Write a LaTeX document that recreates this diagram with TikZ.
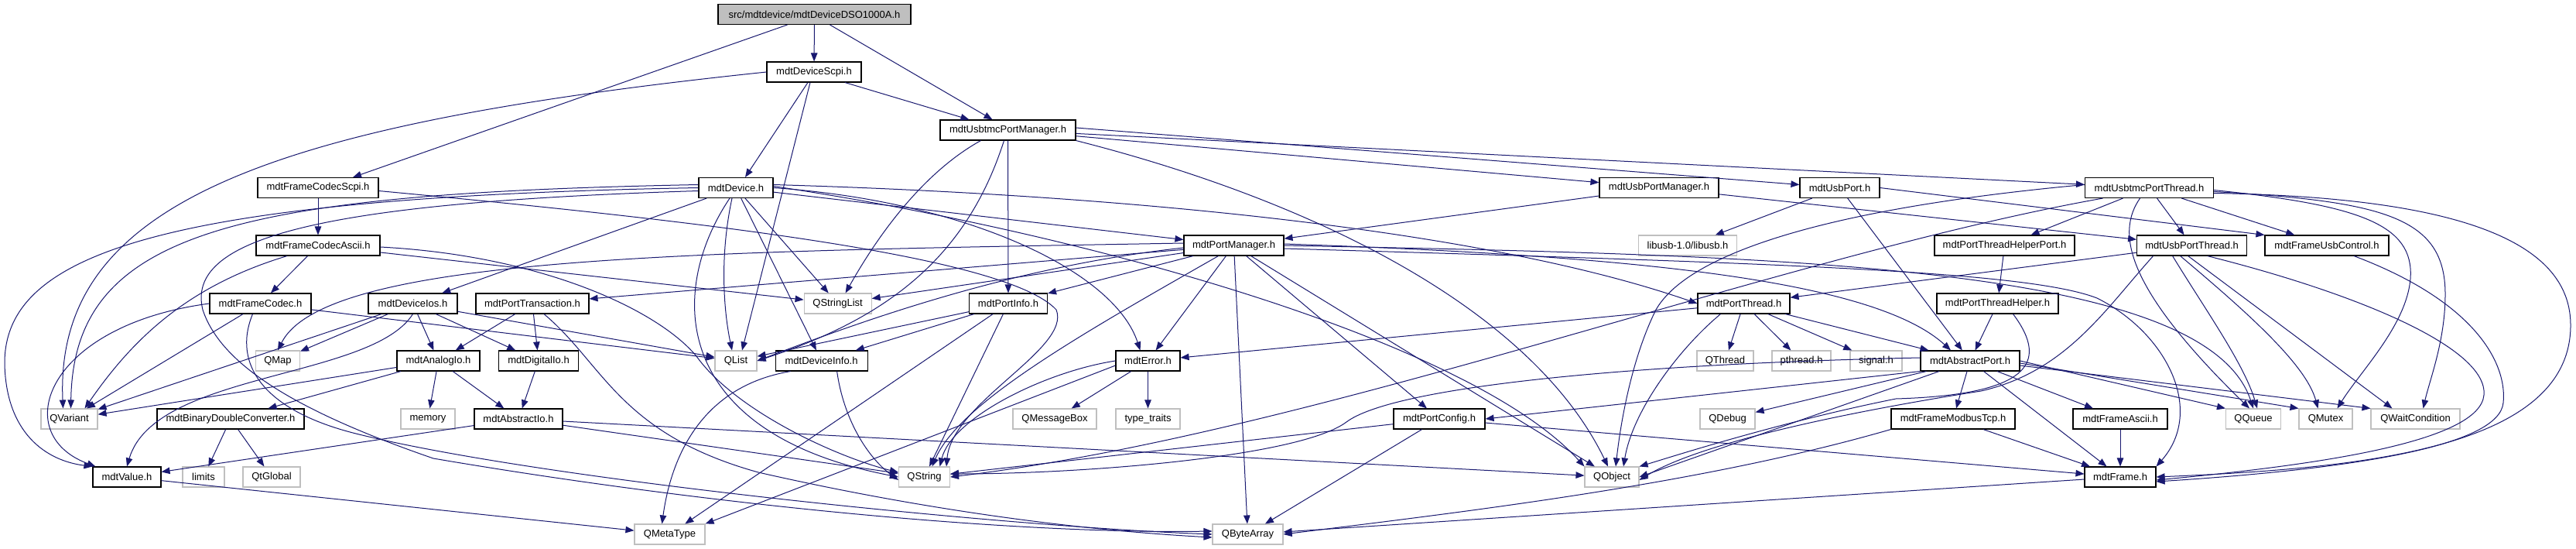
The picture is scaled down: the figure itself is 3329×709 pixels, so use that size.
\documentclass[tikz,border=0pt]{standalone}
\usepackage{fontspec}
\setmainfont{Liberation Sans}
\usetikzlibrary{arrows.meta}
\definecolor{eb}{HTML}{191970}
\definecolor{gb}{HTML}{BFBFBF}
\begin{document}
\begin{tikzpicture}[x=1pt,y=-1pt,
  nd/.style={draw=black,line width=1.1pt,inner sep=0pt,minimum height=26pt,font=\fontsize{13}{15}\selectfont,text=black},
  ex/.style={nd,draw=gb},
  rt/.style={nd,fill=gb},
  e/.style={draw=eb,line width=1pt,-{Triangle[length=11pt,width=8.5pt]}}]
\fill[white] (0,0) rectangle (3329,709);
\useasboundingbox (0,0) rectangle (3329,709);
% row 0-2
\node[rt,minimum width=249pt] (root) at (1052.5,18.5) {src/mdtdevice/mdtDeviceDSO1000A.h};
\node[nd,minimum width=122pt] (devscpi) at (1052,93) {mdtDeviceScpi.h};
\node[nd,minimum width=175pt] (usbtmcpm) at (1302.5,168) {mdtUsbtmcPortManager.h};
% row 3
\node[nd,minimum width=156pt] (fcscpi) at (411,242.5) {mdtFrameCodecScpi.h};
\node[nd,minimum width=96pt] (device) at (951,242.5) {mdtDevice.h};
\node[nd,minimum width=154pt] (usbpm) at (2144,242.5) {mdtUsbPortManager.h};
\node[nd,minimum width=103pt] (usbport) at (2377.5,242.5) {mdtUsbPort.h};
\node[nd,minimum width=166pt] (usbtmcpt) at (2777.5,242.5) {mdtUsbtmcPortThread.h};
% row 4
\node[nd,minimum width=160pt] (fcascii) at (411,317) {mdtFrameCodecAscii.h};
\node[nd,minimum width=129pt] (portmgr) at (1594.5,317) {mdtPortManager.h};
\node[ex,minimum width=127pt] (libusb) at (2181,317) {libusb-1.0/libusb.h};
\node[nd,minimum width=181pt] (pthp) at (2590.5,317) {mdtPortThreadHelperPort.h};
\node[nd,minimum width=142pt] (usbpt) at (2832.6,317) {mdtUsbPortThread.h};
\node[nd,minimum width=160pt] (fusbctl) at (3007,317) {mdtFrameUsbControl.h};
% row 5
\node[nd,minimum width=131pt] (fcodec) at (336.5,392) {mdtFrameCodec.h};
\node[nd,minimum width=115pt] (devios) at (533.5,392) {mdtDeviceIos.h};
\node[nd,minimum width=146pt] (ptrans) at (688,392) {mdtPortTransaction.h};
\node[ex,minimum width=87pt] (qstrlist) at (1082.6,392) {QStringList};
\node[nd,minimum width=101pt] (portinfo) at (1303,392) {mdtPortInfo.h};
\node[nd,minimum width=119pt] (portthread) at (2253.5,392) {mdtPortThread.h};
\node[nd,minimum width=157pt] (pthelper) at (2581.5,392) {mdtPortThreadHelper.h};
% row 6
\node[ex,minimum width=57pt] (qmap) at (359,466) {QMap};
\node[nd,minimum width=107pt] (analogio) at (566.5,466) {mdtAnalogIo.h};
\node[nd,minimum width=103pt] (digitalio) at (696,466) {mdtDigitalIo.h};
\node[ex,minimum width=54pt] (qlist) at (951,466) {QList};
\node[nd,minimum width=119pt] (devinfo) at (1061.6,466) {mdtDeviceInfo.h};
\node[nd,minimum width=83pt] (error) at (1483.5,466) {mdtError.h};
\node[ex,minimum width=73pt] (qthread) at (2229.5,466) {QThread};
\node[ex,minimum width=76pt] (pthread) at (2328,466) {pthread.h};
\node[ex,minimum width=67pt] (signal) at (2424.5,466) {signal.h};
\node[nd,minimum width=128pt] (abstractport) at (2546,466) {mdtAbstractPort.h};
% row 7
\node[ex,minimum width=73pt] (qvariant) at (89.5,541) {QVariant};
\node[nd,minimum width=190pt] (bdc) at (298,541) {mdtBinaryDoubleConverter.h};
\node[ex,minimum width=70pt] (memory) at (553,541) {memory};
\node[nd,minimum width=114pt] (abstractio) at (670,541) {mdtAbstractIo.h};
\node[ex,minimum width=108pt] (qmsgbox) at (1363,541) {QMessageBox};
\node[ex,minimum width=83pt] (typetraits) at (1483.5,541) {type\_traits};
\node[nd,minimum width=118pt] (portconfig) at (1860,541) {mdtPortConfig.h};
\node[ex,minimum width=71pt] (qdebug) at (2232.5,541) {QDebug};
\node[nd,minimum width=160pt] (fmodbus) at (2524,541) {mdtFrameModbusTcp.h};
\node[nd,minimum width=122pt] (fascii) at (2740,541) {mdtFrameAscii.h};
\node[ex,minimum width=71pt] (qqueue) at (2912,541) {QQueue};
\node[ex,minimum width=69pt] (qmutex) at (3005.5,541) {QMutex};
\node[ex,minimum width=115pt] (qwait) at (3121.5,541) {QWaitCondition};
% row 8
\node[nd,minimum width=88pt] (value) at (164,616) {mdtValue.h};
\node[ex,minimum width=54pt] (limits) at (263,616) {limits};
\node[ex,minimum width=74pt] (qtglobal) at (351,616) {QtGlobal};
\node[ex,minimum width=66pt] (qstring) at (1194.5,616) {QString};
\node[ex,minimum width=70pt] (qobject) at (2083,616) {QObject};
\node[nd,minimum width=92pt] (frame) at (2740,616) {mdtFrame.h};
% row 9
\node[ex,minimum width=91pt] (qmetatype) at (865.5,690) {QMetaType};
\node[ex,minimum width=91pt] (qbytearray) at (1612.5,690) {QByteArray};

% ---- straight connectors
\foreach \a/\b in {usbtmcpm/portinfo, usbtmcpm/usbpm, usbtmcpm/usbtmcpt,
  device/devios, device/qstrlist, device/devinfo, device/portmgr,
  fcscpi/fcascii, fcascii/fcodec, fcascii/qstrlist,
  fcodec/qvariant, fcodec/qlist,
  devios/qmap, devios/analogio, devios/digitalio, devios/qlist, devios/qvariant,
  ptrans/analogio, ptrans/digitalio,
  analogio/memory, analogio/abstractio, analogio/qvariant, analogio/bdc,
  digitalio/abstractio,
  abstractio/value, abstractio/qobject, abstractio/qstring,
  bdc/limits, bdc/qtglobal, value/qmetatype,
  portmgr/qstrlist, portmgr/portinfo, portmgr/error, portmgr/qbytearray, portmgr/ptrans,
  portmgr/portconfig, portmgr/qobject,
  portinfo/qlist, portinfo/devinfo, portinfo/qmetatype, portinfo/qstring,
  error/qmsgbox, error/typetraits,
  usbpm/portmgr, usbpm/usbpt, usbport/libusb, usbport/abstractport,
  usbtmcpt/usbpt, usbtmcpt/fusbctl, usbtmcpt/pthp,
  pthp/pthelper, pthelper/abstractport,
  usbpt/portthread,
  portthread/qthread, portthread/pthread, portthread/signal, portthread/abstractport, portthread/error,
  abstractport/qdebug, abstractport/fmodbus, abstractport/fascii, abstractport/frame,
  fmodbus/frame, fascii/frame, frame/qbytearray,
  portconfig/qstring, portconfig/qbytearray, portconfig/frame}
  \draw[e] (\a) -- (\b);

% ---- anchored straight connectors
\draw[e] (root) -- (devscpi);
\draw[e] ([xshift=-35pt]root.south) -- ([xshift=45pt]fcscpi.north);
\draw[e] ([xshift=20pt]root.south) -- ([xshift=-20pt]usbtmcpm.north);
\draw[e] ([xshift=40pt]devscpi.south) -- ([xshift=-50pt]usbtmcpm.north);
\draw[e] ([xshift=-8pt]devscpi.south) -- ([xshift=12pt]device.north);
\draw[e] ([xshift=-5pt]devscpi.south) -- ([xshift=8pt]qlist.north);
\draw[e] ([yshift=3pt]usbtmcpm.east) -- ([yshift=4pt]usbport.west);
\draw[e] (usbport.east) -- (fusbctl.north west);
\draw[e] ([yshift=-6pt]error.west) -- (qmetatype.north east);
\draw[e] (abstractport.south west) -- (portconfig.east);
\draw[e] ([xshift=-40pt]abstractport.south) -- (qobject.east);
\draw[e] (abstractport.east) -- (qqueue.north west);
\draw[e] ([yshift=-3pt]abstractport.east) -- (qmutex.north west);
\draw[e] ([yshift=-6pt]abstractport.east) -- (qwait.north west);
\draw[e] ([xshift=-5pt]usbpt.south) -- ([xshift=-30pt]qwait.north);

% ---- curved connectors, left part
\draw[e] (devscpi.west) .. controls (350,160) and (70,260) .. ([xshift=-8pt]qvariant.north);
\draw[e] ([yshift=4pt]device.west) .. controls (300,250) and (95,300) .. ([xshift=2pt]qvariant.north);
\draw[e] (device.west) .. controls (200,255) and (5,330) .. (6,470) .. controls (8,560) and (60,595) .. (value.north west);
\draw[e] (fcodec.west) .. controls (60,420) and (10,560) .. ([xshift=4pt]value.north west);
\draw[e] ([yshift=-4pt]device.west) .. controls (400,262) and (240,310) .. (262,400) .. controls (285,470) and (380,530) .. (560,592) .. controls (900,650) and (1300,690) .. ([yshift=4pt]qbytearray.west);
\draw[e] ([xshift=-10pt]fcodec.south) .. controls (300,470) and (340,530) .. (460,560) .. controls (700,620) and (1300,680) .. (qbytearray.west);
\draw[e] ([xshift=15pt]ptrans.south) .. controls (780,470) and (800,560) .. (980,610) .. controls (1200,660) and (1400,685) .. ([yshift=-4pt]qbytearray.west);
\draw[e] ([xshift=-40pt]fcascii.south) .. controls (240,370) and (170,440) .. ([xshift=20pt]qvariant.north);
\draw[e] ([yshift=-2pt]fcascii.east) .. controls (700,330) and (850,400) .. (900,460) .. controls (950,530) and (1080,590) .. ([yshift=6pt]qstring.west);
\draw[e] ([yshift=-4pt]fcscpi.east) .. controls (900,285) and (1300,330) .. (1365,400) .. controls (1385,450) and (1230,520) .. ([xshift=-5pt]qstring.north east);
\draw[e] (devios.south) .. controls (480,490) and (200,480) .. (value.north);

% ---- curved connectors, middle part
\draw[e] ([xshift=-35pt]usbtmcpm.south) .. controls (1180,230) and (1120,330) .. ([xshift=10pt]qstrlist.north);
\draw[e] ([xshift=-5pt]usbtmcpm.south) .. controls (1250,330) and (1150,410) .. (qlist.east);
\draw[e] ([xshift=-5pt]device.south) .. controls (930,330) and (935,400) .. ([xshift=-5pt]qlist.north);
\draw[e] ([xshift=-8pt]device.south) .. controls (860,380) and (870,560) .. (qstring.west);
\draw[e] (device.east) .. controls (1250,260) and (1440,350) .. ([xshift=-10pt]error.north);
\draw[e] ([yshift=2pt]device.east) .. controls (1400,300) and (1900,440) .. (qobject.north west);
\draw[e] ([yshift=4pt]device.east) .. controls (1400,250) and (1900,290) .. (portthread.west);
\draw[e] (usbtmcpm.south east) .. controls (1700,260) and (1980,400) .. ([xshift=-5pt]qobject.north);
\draw[e] ([yshift=3pt]portmgr.west) .. controls (900,325) and (420,330) .. (qmap.north);
\draw[e] ([yshift=-3pt]portmgr.west) .. controls (1300,345) and (1100,420) .. (qlist.east);
\draw[e] ([xshift=-20pt]portmgr.south) .. controls (1400,430) and (1240,520) .. ([xshift=10pt]qstring.north);
\draw[e] ([xshift=-40pt]devinfo.south) .. controls (900,500) and (866,600) .. ([xshift=-10pt]qmetatype.north);
\draw[e] ([xshift=20pt]devinfo.south) .. controls (1090,540) and (1120,590) .. ([yshift=-4pt]qstring.west);
\draw[e] (error.west) .. controls (1350,480) and (1230,540) .. ([xshift=20pt]qstring.north);
\draw[e] ([yshift=4pt]abstractport.west) .. controls (2100,470) and (1800,500) .. (1740,545) .. controls (1680,590) and (1400,612) .. ([yshift=4pt]qstring.east);
\draw[e] ([xshift=-60pt]usbtmcpt.south) .. controls (2300,330) and (1700,560) .. (qstring.east);
\draw[e] (fmodbus.south west) .. controls (2200,625) and (1900,660) .. (qbytearray.east);

% ---- curved connectors, right part
\draw[e] (portmgr.east) .. controls (2300,330) and (2850,340) .. (qqueue.north);
\draw[e] ([yshift=-4pt]portmgr.east) .. controls (2300,340) and (2620,350) .. (2710,385) .. controls (2800,430) and (2850,530) .. (frame.north east);
\draw[e] ([yshift=2pt]portmgr.east) .. controls (2100,330) and (2420,360) .. ([xshift=-25pt]abstractport.north);
\draw[e] ([xshift=20pt]pthelper.south) .. controls (2650,470) and (2620,510) .. (2450,515) .. controls (2300,545) and (2160,590) .. (qobject.north east);
\draw[e] ([yshift=4pt]usbtmcpt.west) .. controls (2350,270) and (2180,330) .. (2140,400) .. controls (2110,460) and (2095,540) .. ([xshift=5pt]qobject.north);
\draw[e] ([xshift=-50pt]usbpt.south) .. controls (2720,400) and (2670,480) .. (2560,505) .. controls (2400,530) and (2200,570) .. ([yshift=-4pt]qobject.east);
\draw[e] ([xshift=-30pt]portthread.south) .. controls (2170,450) and (2110,530) .. ([xshift=15pt]qobject.north);
\draw[e] ([xshift=-12pt]usbtmcpt.south) .. controls (2735,300) and (2745,370) .. ([xshift=-5pt]qqueue.north);
\draw[e] ([xshift=-25pt]usbpt.south) .. controls (2850,400) and (2900,470) .. ([xshift=5pt]qqueue.north);
\draw[e] ([xshift=-15pt]usbpt.south) .. controls (2900,400) and (2980,470) .. ([xshift=-10pt]qmutex.north);
\draw[e] ([yshift=-3pt]usbtmcpt.east) .. controls (3050,265) and (3120,290) .. (3115,360) .. controls (3110,420) and (3050,480) .. ([xshift=15pt]qmutex.north);
\draw[e] ([yshift=-5pt]usbtmcpt.east) .. controls (3080,260) and (3160,280) .. (3160,380) .. controls (3160,440) and (3140,490) .. ([xshift=10pt]qwait.north);
\draw[e] ([yshift=-7pt]usbtmcpt.east) .. controls (3200,255) and (3322,320) .. (3322,420) .. controls (3322,580) and (3050,605) .. (frame.east);
\draw[e] ([xshift=20pt]usbpt.south) .. controls (3050,380) and (3215,450) .. (3210,510) .. controls (3205,570) and (3000,600) .. ([yshift=-4pt]frame.east);
\draw[e] ([xshift=35pt]fusbctl.south) .. controls (3200,390) and (3240,470) .. (3235,520) .. controls (3230,575) and (3050,605) .. ([yshift=-6pt]frame.east);
\end{tikzpicture}
\end{document}
